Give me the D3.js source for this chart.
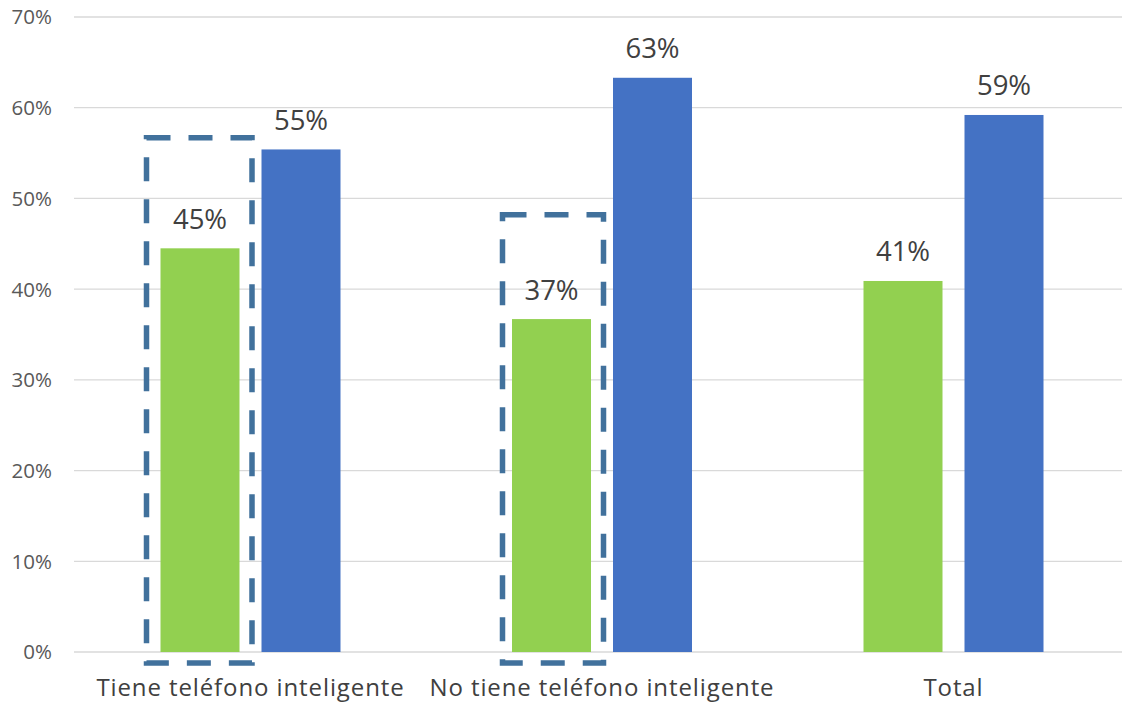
<!DOCTYPE html>
<html><head><meta charset="utf-8">
<script src="https://cdn.jsdelivr.net/npm/d3@7"></script>
<style>html,body{margin:0;padding:0;background:#fff;}svg{display:block;}</style>
</head><body>
<svg id="c" width="1122" height="705"></svg>
<script>
const categories = ["Tiene teléfono inteligente", "No tiene teléfono inteligente", "Total"];
const seriesNames = ["A", "B"];
const seriesA = [44.5, 36.7, 40.9];
const seriesB = [55.4, 63.3, 59.2];
const valueLabels = [["45%", "55%"], ["37%", "63%"], ["41%", "59%"]];
const yTicks = [0, 10, 20, 30, 40, 50, 60, 70];
const highlightCats = ["Tiene teléfono inteligente", "No tiene teléfono inteligente"];
const highlightTop = [56.7, 48.2];

const colors = {A: "#92d050", B: "#4472c4"};
const font = "'Open Sans', sans-serif";
const svg = d3.select("#c");

const y = d3.scaleLinear().domain([0, 70]).range([652, 17]);
const x0 = d3.scaleBand().domain(categories).range([74.75, 1129.25]).padding(0);
const x1 = d3.scaleBand().domain(seriesNames).range([-90, 90]).paddingInner(22/101).paddingOuter(0);

// gridlines
svg.append("g").selectAll("line").data(yTicks).join("line")
  .attr("x1", 74).attr("x2", 1122)
  .attr("y1", d => y(d)).attr("y2", d => y(d))
  .attr("stroke", "#d9d9d9").attr("stroke-width", 1.3);

// y axis labels
svg.append("g").selectAll("text").data(yTicks).join("text")
  .attr("x", 52).attr("y", d => y(d)).attr("dy", "0.36em")
  .attr("text-anchor", "end").attr("font-family", font).attr("font-size", 20.5)
  .attr("fill", "#595959").text(d => d + "%");

const rows = categories.map((c, i) => ({cat: c, vals: [{s: "A", v: seriesA[i], l: valueLabels[i][0]}, {s: "B", v: seriesB[i], l: valueLabels[i][1]}]}));

const g = svg.append("g").selectAll("g").data(rows).join("g")
  .attr("transform", d => `translate(${x0(d.cat) + x0.bandwidth()/2},0)`);

g.selectAll("rect").data(d => d.vals).join("rect")
  .attr("x", d => x1(d.s)).attr("width", x1.bandwidth())
  .attr("y", d => y(d.v)).attr("height", d => y(0) - y(d.v))
  .attr("fill", d => colors[d.s]);

g.selectAll("text").data(d => d.vals).join("text")
  .attr("x", d => x1(d.s) + x1.bandwidth()/2).attr("y", d => y(d.v) - 19.5)
  .attr("text-anchor", "middle").attr("font-family", font).attr("font-size", 27.5)
  .attr("fill", "#404040").text(d => d.l);

// category labels
svg.append("g").selectAll("text").data(categories).join("text")
  .attr("x", d => x0(d) + x0.bandwidth()/2).attr("y", 696)
  .attr("text-anchor", "middle").attr("font-family", font).attr("font-size", 24)
  .attr("letter-spacing", 0.9)
  .attr("fill", "#404040").text(d => d);

// dashed highlight boxes
const hl = highlightCats.map((c, i) => ({cat: c, top: highlightTop[i], off: i === 0 ? 14 : 9.5}));
svg.append("g").selectAll("path").data(hl).join("path")
  .attr("d", d => {
    const cx = x0(d.cat) + x0.bandwidth()/2;
    const l = cx + x1("A") - d.off, r = cx + 1.5, t = y(d.top), b = y(0) + 11;
    return `M${l},${t}H${r}V${b}H${l}Z`;
  })
  .attr("fill", "none").attr("stroke", "#41719c").attr("stroke-width", 5.5)
  .attr("stroke-dasharray", "24,18");
</script>
</body></html>
